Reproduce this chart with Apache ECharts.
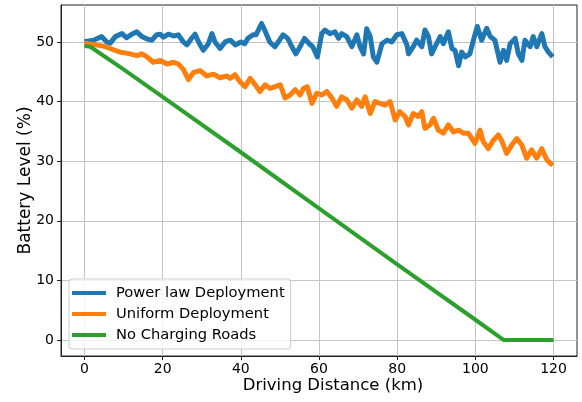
<!DOCTYPE html>
<html><head><meta charset="utf-8">
<script src="https://cdn.jsdelivr.net/npm/echarts@6/dist/echarts.min.js"></script>
<style>html,body{margin:0;padding:0;background:#fff}#c{width:582px;height:402px}</style>
</head><body><div id="c"></div>
<script>
const xTicks = [0, 20, 40, 60, 80, 100, 120];
const yTicks = [0, 10, 20, 30, 40, 50];
const seriesNames = ['Power law Deployment', 'Uniform Deployment', 'No Charging Roads'];

const powerLaw = [
  [0,50.05],[2.3,50.3],[4.4,50.9],[5.7,50.0],[6.6,49.8],[7.9,50.9],[9.6,51.4],[10.8,50.7],
  [12.1,51.3],[13.4,51.7],[14.7,50.9],[16.0,50.5],[17.2,50.3],[18.5,51.2],[19.4,51.3],[20.2,50.8],
  [21.5,51.3],[22.8,51.0],[24.0,51.2],[25.3,50.0],[26.2,49.5],[27.5,50.7],[28.3,51.3],[29.2,50.0],
  [30.4,48.6],[31.7,49.7],[32.6,51.4],[33.4,50.0],[34.7,48.9],[36.0,50.0],[37.3,50.3],[38.6,49.5],
  [40.0,50.0],[41.0,49.7],[41.8,50.6],[43.1,51.2],[43.9,51.2],[45.3,53.1],[46.1,52.0],[47.4,50.0],
  [48.7,49.2],[49.9,50.3],[50.8,51.2],[52.0,50.6],[53.3,48.9],[54.1,48.0],[55.4,49.5],[56.3,50.6],
  [57.5,49.7],[58.4,49.2],[59.6,47.5],[60.7,51.4],[61.5,52.0],[62.8,51.4],[64.1,51.7],[65.0,50.6],
  [65.8,51.4],[67.1,50.9],[68.4,49.2],[69.7,51.2],[70.5,49.2],[71.4,48.0],[72.2,52.2],[73.1,50.9],
  [73.9,47.5],[74.8,46.6],[76.1,49.7],[77.4,50.3],[78.6,50.0],[79.9,51.2],[81.2,51.4],[82.5,49.5],
  [82.9,48.0],[84.1,49.2],[85.0,50.3],[86.3,49.2],[87.1,52.0],[88.0,50.9],[88.8,48.0],[89.7,49.2],
  [91.0,50.9],[91.8,49.7],[93.1,51.7],[94.0,48.9],[94.8,48.6],[95.7,46.0],[96.5,48.3],[97.4,47.5],
  [98.6,48.0],[99.5,50.3],[100.5,52.6],[101.6,50.3],[102.9,52.3],[103.8,50.9],[105.0,50.3],[106.3,46.6],
  [107.2,48.6],[108.0,46.9],[108.9,49.7],[110.2,50.6],[111.0,48.0],[111.9,46.9],[112.7,50.3],[114.0,49.2],
  [114.8,50.9],[115.7,49.2],[117.0,51.4],[117.8,49.2],[118.7,48.3],[119.8,47.5]
];

const uniform = [
  [0,49.8],[4.9,49.3],[6.6,48.9],[9.1,48.3],[11.7,48.0],[13.4,47.7],[14.7,48.0],[16.0,47.5],
  [17.6,46.6],[19.4,46.9],[21.1,46.3],[22.8,46.6],[24.0,46.3],[25.3,45.4],[26.6,43.7],[27.9,44.9],
  [29.6,45.2],[31.3,44.3],[33.0,44.6],[34.7,44.0],[36.4,44.3],[37.3,43.9],[38.5,44.5],[39.8,43.3],
  [41.1,42.5],[42.4,43.9],[43.7,42.8],[44.9,41.7],[46.2,42.8],[47.5,42.2],[48.8,42.5],[50.1,42.8],
  [51.3,40.6],[52.6,41.1],[53.9,42.0],[55.2,41.1],[56.0,42.2],[57.0,42.5],[58.2,39.7],[59.4,41.4],
  [60.7,41.1],[62.0,41.7],[63.3,40.6],[64.5,39.2],[65.8,40.8],[67.1,40.3],[68.4,38.9],[69.7,40.3],
  [70.9,39.2],[71.8,40.8],[73.1,38.0],[74.3,40.0],[75.6,39.7],[76.9,39.4],[78.2,40.0],[79.5,36.9],
  [80.7,38.3],[82.0,37.5],[82.9,36.1],[84.1,38.0],[85.4,37.5],[86.3,38.3],[87.1,35.5],[88.4,36.1],
  [89.3,37.2],[90.5,35.2],[91.8,34.7],[93.1,36.1],[94.4,34.9],[95.7,35.2],[96.9,34.7],[98.2,34.7],
  [99.1,33.8],[99.9,33.0],[101.2,35.2],[102.0,33.3],[103.3,32.1],[104.6,33.5],[105.9,34.4],[106.7,33.5],
  [108.0,31.3],[109.3,32.7],[110.6,33.8],[111.9,32.7],[113.1,30.5],[114.4,31.9],[115.7,30.5],[117.0,32.1],
  [118.3,30.2],[119.8,29.3]
];

const noCharging = [
  [0,49.3],[1.5,49.2],[10,45.4],[20,40.8],[40,31.5],[60,22.1],[80,12.7],[100,3.4],[107.3,0],[120,0]
];

const colors = ['#1f77b4', '#ff7f0e', '#2ca02c'];
const FONT = 'DejaVu Sans';

const chart = echarts.init(document.getElementById('c'), null, {renderer: 'canvas'});
chart.setOption({
  animation: false,
  backgroundColor: '#ffffff',
  textStyle: {fontFamily: FONT},
  grid: {left: 61, right: 5, top: 5, bottom: 46, show: true, borderColor: '#222', borderWidth: 1, backgroundColor: 'transparent'},
  legend: {
    orient: 'vertical', left: 69, top: 279,
    data: seriesNames,
    icon: 'rect', itemWidth: 34, itemHeight: 4, itemGap: 5,
    padding: [6, 6, 6, 3],
    backgroundColor: 'rgba(255,255,255,0.8)', borderColor: '#cccccc', borderWidth: 1, borderRadius: 3,
    textStyle: {fontFamily: FONT, fontSize: 14.7, color: '#000', lineHeight: 16, padding: [0, 0, 0, 5]}
  },
  xAxis: {
    type: 'value', min: -6, max: 126,
    name: 'Driving Distance (km)', nameLocation: 'middle', nameGap: 21, nameMoveOverlap: false,
    nameTextStyle: {fontFamily: FONT, fontSize: 16.5, color: '#000', padding: [0, 0, 0, 28]},
    axisLine: {onZero: false, lineStyle: {color: '#222', width: 1}},
    axisTick: {show: true, length: 4, lineStyle: {color: '#222'}, customValues: xTicks},
    axisLabel: {fontFamily: FONT, fontSize: 14, color: '#000', margin: 6, customValues: xTicks},
    splitLine: {show: true, lineStyle: {color: '#c4c4c4', width: 1}}
  },
  yAxis: {
    type: 'value', min: -2.68, max: 56.2,
    name: 'Battery Level (%)', nameLocation: 'middle', nameGap: 27, nameMoveOverlap: false,
    nameTextStyle: {fontFamily: FONT, fontSize: 17, color: '#000'},
    axisLine: {show: true, onZero: false, lineStyle: {color: '#222', width: 1}},
    axisTick: {show: true, length: 4, lineStyle: {color: '#222'}, customValues: yTicks},
    axisLabel: {fontFamily: FONT, fontSize: 14, color: '#000', margin: 7, customValues: yTicks},
    splitLine: {show: true, lineStyle: {color: '#c4c4c4', width: 1}}
  },
  series: [
    {name: seriesNames[0], type: 'line', data: powerLaw, showSymbol: false, color: colors[0], lineStyle: {width: 5, color: colors[0], join: 'round'}},
    {name: seriesNames[1], type: 'line', data: uniform, showSymbol: false, color: colors[1], lineStyle: {width: 5, color: colors[1], join: 'round'}},
    {name: seriesNames[2], type: 'line', data: noCharging, showSymbol: false, color: colors[2], lineStyle: {width: 4, color: colors[2], join: 'round'}}
  ]
});
</script>
</body></html>
